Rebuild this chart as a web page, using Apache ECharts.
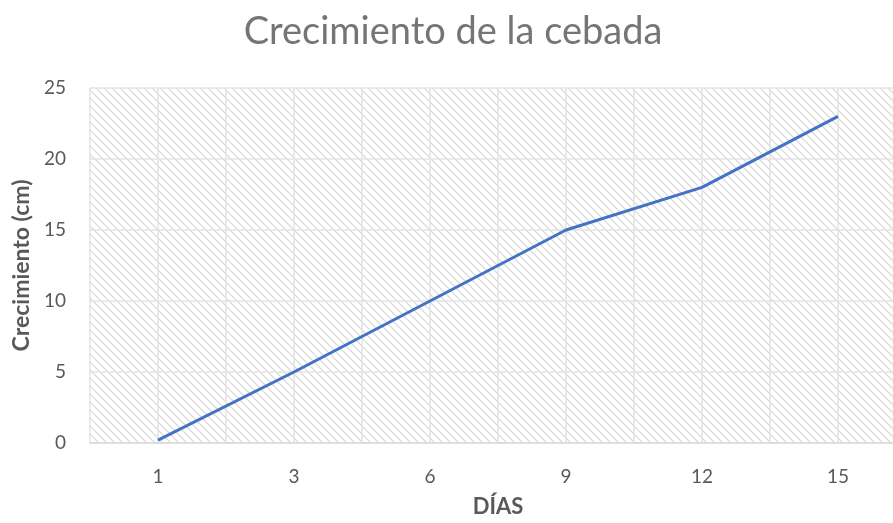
<!DOCTYPE html>
<html>
<head>
<meta charset="utf-8">
<script src="https://cdn.jsdelivr.net/npm/echarts@6/dist/echarts.min.js"></script>
<style>
  html, body { margin: 0; padding: 0; background: #fff; overflow: hidden; }
  #wrap { width: 893px; height: 523px; overflow: hidden; }
  /* the last category band runs past the right edge of the frame */
  #chart { width: 906px; height: 523px; }
</style>
</head>
<body>
<div id="wrap"><div id="chart"></div></div>
<script>
// Días de medición y altura de la cebada (cm)
const dias = ['1', '3', '6', '9', '12', '15'];
const crecimiento = [0.2, 5, 10, 15, 18, 23];
const yTicks = { min: 0, max: 25, interval: 5 };

const FONT = 'Lato, "Open Sans", sans-serif';

// Diagonal hatch fill for the plot area
function hatchPattern() {
  const s = 8;
  const c = document.createElement('canvas');
  c.width = s; c.height = s;
  const g = c.getContext('2d');
  g.fillStyle = '#ffffff';
  g.fillRect(0, 0, s, s);
  g.strokeStyle = '#d6d6d6';
  g.lineWidth = 1.2;
  g.beginPath();
  g.moveTo(-1, -1); g.lineTo(s + 1, s + 1);
  g.moveTo(-1, s - 1); g.lineTo(1, s + 1);
  g.moveTo(s - 1, -1); g.lineTo(s + 1, 1);
  g.stroke();
  return c;
}

const chart = echarts.init(document.getElementById('chart'), null, { renderer: 'canvas' });
chart.setOption({
  animation: false,
  title: {
    text: 'Crecimiento de la cebada',
    left: 'center',
    top: 8,
    textStyle: { fontFamily: FONT, fontSize: 38, fontWeight: 'normal', color: '#757575' }
  },
  grid: {
    show: true,
    left: 90, right: 0, top: 88, bottom: 80,
    borderWidth: 0,
    backgroundColor: { image: hatchPattern(), repeat: 'repeat' }
  },
  xAxis: [
    {
      type: 'category',
      data: dias,
      boundaryGap: true,
      name: 'DÍAS',
      nameLocation: 'middle',
      nameGap: 53,
      nameTextStyle: { fontFamily: FONT, fontSize: 22, fontWeight: 'bold', color: '#595959' },
      axisLine: { show: true, lineStyle: { color: '#d9d9d9', width: 1.5 } },
      axisTick: { show: false },
      axisLabel: { fontFamily: FONT, fontSize: 19, color: '#595959', margin: 24 },
      splitLine: { show: false }
    },
    {
      // vertical gridlines at every half band
      type: 'value',
      min: 0, max: 12, interval: 1,
      show: true,
      position: 'bottom',
      axisLine: { show: false },
      axisTick: { show: false },
      axisLabel: { show: false },
      splitLine: { show: true, lineStyle: { color: '#e3e3e3', width: 1.5 } }
    }
  ],
  yAxis: {
    type: 'value',
    min: yTicks.min, max: yTicks.max, interval: yTicks.interval,
    name: 'Crecimiento (cm)',
    nameLocation: 'middle',
    nameRotate: 90,
    nameGap: 57,
    nameTextStyle: { fontFamily: FONT, fontSize: 23, fontWeight: 'bold', color: '#595959' },
    axisLine: { show: false },
    axisTick: { show: false },
    axisLabel: { fontFamily: FONT, fontSize: 19, color: '#595959', margin: 24 },
    splitLine: { show: true, lineStyle: { color: '#e3e3e3', width: 1.5 } }
  },
  series: [{
    type: 'line',
    xAxisIndex: 0,
    data: crecimiento,
    symbol: 'none',
    lineStyle: { color: '#4472C4', width: 3 },
    z: 5
  }]
});
</script>
</body>
</html>
